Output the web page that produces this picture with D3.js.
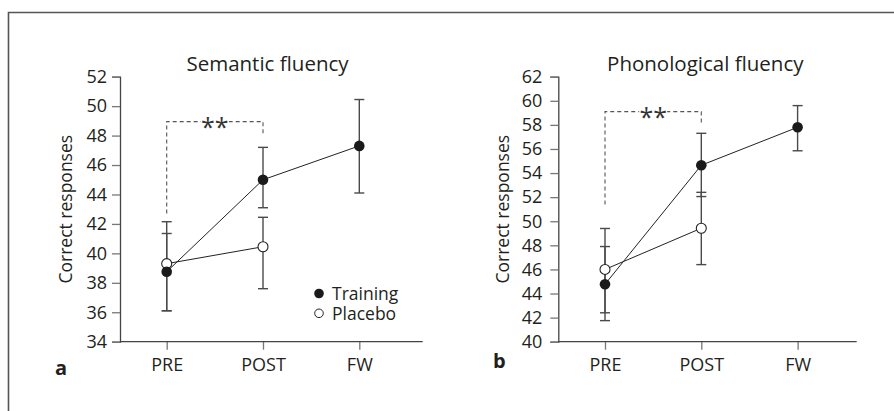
<!DOCTYPE html>
<html><head><meta charset="utf-8">
<script src="https://cdn.jsdelivr.net/npm/d3@7"></script>
<style>
html,body{margin:0;padding:0;background:#fff;}
svg{display:block;font-family:"Open Sans",sans-serif;}
</style></head>
<body><svg id="chart" width="894" height="411"></svg>
<script>
// ---- data ----
const categories = ["PRE", "POST", "FW"];
const seriesNames = ["Training", "Placebo"];

const semTicks = [34, 36, 38, 40, 42, 44, 46, 48, 50, 52];
const semTrainingMean = [38.75, 45.0, 47.3];
const semTrainingLow  = [36.1, 43.1, 44.1];
const semTrainingHigh = [41.35, 47.2, 50.45];
const semPlaceboMean  = [39.3, 40.45];
const semPlaceboLow   = [36.1, 37.6];
const semPlaceboHigh  = [42.15, 42.45];
const semBracket = [42.7, 48.95, 48.05]; // left end, top, right end

const phonTicks = [40, 42, 44, 46, 48, 50, 52, 54, 56, 58, 60, 62];
const phonTrainingMean = [44.77, 54.65, 57.8];
const phonTrainingLow  = [41.75, 52.05, 55.85];
const phonTrainingHigh = [47.9, 57.3, 59.6];
const phonPlaceboMean  = [46.0, 49.42];
const phonPlaceboLow   = [42.4, 46.4];
const phonPlaceboHigh  = [49.4, 52.4];
const phonBracket = [51.4, 59.1, 58.0];

const svg = d3.select("#chart");
const TXT = "#231f20";

// frame
svg.append("path").attr("d", "M8.5,411 L8.5,12.5 L894,12.5")
  .attr("fill", "none").attr("stroke", "#555").attr("stroke-width", 1.6);

function panel(o) {
  const g = svg.append("g");
  const y = d3.scaleLinear().domain([o.ticks[0], o.ticks[o.ticks.length - 1]]).range([341.7, 76.7]);
  const x = d3.scalePoint().domain(categories).range([o.x0 + o.padL, o.x0 + o.padL + 192.6]);
  const ax = o.x0;

  // y axis
  const ya = g.append("g").attr("transform", `translate(${ax},0)`)
    .call(d3.axisLeft(y).tickValues(o.ticks).tickSize(8).tickPadding(o.tickPad).tickFormat(d3.format("d")));
  ya.select(".domain").attr("stroke", "#444").attr("stroke-width", 1.3);
  ya.selectAll(".tick line").attr("stroke", "#777").attr("stroke-width", 1.3);
  ya.selectAll(".tick text").attr("font-size", 18).attr("fill", TXT).attr("font-family", "Open Sans");

  // x axis
  const xa = g.append("g").attr("transform", `translate(0,${y.range()[0]})`)
    .call(d3.axisBottom(x).tickSize(8).tickPadding(9));
  xa.select(".domain").remove();
  xa.selectAll(".tick line").attr("stroke", "#777").attr("stroke-width", 1.3);
  xa.selectAll(".tick text").attr("font-size", 18).attr("fill", TXT).attr("font-family", "Open Sans");
  g.append("line").attr("x1", ax).attr("x2", ax + o.xLen)
    .attr("y1", y.range()[0]).attr("y2", y.range()[0]).attr("stroke", "#444").attr("stroke-width", 1.3);

  // title
  g.append("text").attr("x", o.titleX).attr("y", 71).attr("text-anchor", "middle")
    .attr("font-size", 20.5).attr("fill", TXT).text(o.title);
  // y label
  g.append("text").attr("transform", `translate(${o.ylabX},${(y.range()[0] + y.range()[1]) / 2}) rotate(-90)`)
    .attr("text-anchor", "middle").attr("font-size", 17.5).attr("fill", TXT).text("Correct responses");
  // panel letter
  g.append("text").attr("x", o.letterX).attr("y", o.letterY).attr("font-size", 20)
    .attr("font-weight", "bold").attr("fill", TXT).text(o.letter);

  // bracket
  const b = o.bracket;
  const bx1 = x("PRE"), bx2 = x("POST");
  g.append("path").attr("d", `M${bx1},${y(b[0])} L${bx1},${y(b[1])} L${bx2},${y(b[1])} L${bx2},${y(b[2])}`)
    .attr("fill", "none").attr("stroke", "#555").attr("stroke-width", 1.1).attr("stroke-dasharray", "4,3");
  const mid = (bx1 + bx2) / 2 + o.starDx;
  g.append("rect").attr("x", mid - 14).attr("y", y(b[1]) - 4).attr("width", 28).attr("height", 8).attr("fill", "#fff");
  g.append("text").attr("x", mid).attr("y", y(b[1]) + 14.5).attr("text-anchor", "middle")
    .attr("font-size", 25).attr("fill", "#333").text("**");

  // error bars
  function errs(mean, lo, hi, color) {
    const d = mean.map((m, i) => ({ c: categories[i], lo: lo[i], hi: hi[i] }));
    const eg = g.append("g").attr("stroke", color).attr("stroke-width", 1.4);
    eg.selectAll(".v").data(d).join("line")
      .attr("x1", e => x(e.c)).attr("x2", e => x(e.c)).attr("y1", e => y(e.lo)).attr("y2", e => y(e.hi));
    eg.selectAll(".cl").data(d).join("line")
      .attr("x1", e => x(e.c) - 5).attr("x2", e => x(e.c) + 5).attr("y1", e => y(e.lo)).attr("y2", e => y(e.lo));
    eg.selectAll(".ch").data(d).join("line")
      .attr("x1", e => x(e.c) - 5).attr("x2", e => x(e.c) + 5).attr("y1", e => y(e.hi)).attr("y2", e => y(e.hi));
  }
  errs(o.pMean, o.pLow, o.pHigh, "#4a4a4a");
  errs(o.tMean, o.tLow, o.tHigh, "#4a4a4a");

  const line = d3.line().x((m, i) => x(categories[i])).y(m => y(m));
  g.append("path").attr("d", line(o.pMean)).attr("fill", "none").attr("stroke", "#222").attr("stroke-width", 1);
  g.append("path").attr("d", line(o.tMean)).attr("fill", "none").attr("stroke", "#222").attr("stroke-width", 1);

  g.selectAll(".pm").data(o.pMean).join("circle")
    .attr("cx", (m, i) => x(categories[i])).attr("cy", m => y(m)).attr("r", 5)
    .attr("fill", "#fff").attr("stroke", "#222").attr("stroke-width", 1.1);
  g.selectAll(".tm").data(o.tMean).join("circle")
    .attr("cx", (m, i) => x(categories[i])).attr("cy", m => y(m)).attr("r", 5.3)
    .attr("fill", "#1a1a1a");

  return { g, x, y };
}

const A = panel({
  x0: 120, padL: 46.7, xLen: 302.7, tickPad: 5, ticks: semTicks,
  title: "Semantic fluency", titleX: 267.5, ylabX: 71.5, letter: "a", letterX: 55, letterY: 375,
  bracket: semBracket, starDx: 0,
  tMean: semTrainingMean, tLow: semTrainingLow, tHigh: semTrainingHigh,
  pMean: semPlaceboMean, pLow: semPlaceboLow, pHigh: semPlaceboHigh
});
const B = panel({
  x0: 558.3, padL: 46.7, xLen: 298.4, tickPad: 8, ticks: phonTicks,
  title: "Phonological fluency", titleX: 705.3, ylabX: 509.3, letter: "b", letterX: 493, letterY: 368,
  bracket: phonBracket, starDx: 0,
  tMean: phonTrainingMean, tLow: phonTrainingLow, tHigh: phonTrainingHigh,
  pMean: phonPlaceboMean, pLow: phonPlaceboLow, pHigh: phonPlaceboHigh
});

// legend (panel a)
const lg = svg.append("g");
const legendY = [293.5, 313.3];
lg.selectAll("circle").data(seriesNames).join("circle")
  .attr("cx", 319).attr("cy", (d, i) => legendY[i]).attr("r", (d, i) => i === 0 ? 4.8 : 4.3)
  .attr("fill", (d, i) => i === 0 ? "#1a1a1a" : "#fff")
  .attr("stroke", "#222").attr("stroke-width", (d, i) => i === 0 ? 0 : 1);
lg.selectAll("text").data(seriesNames).join("text")
  .attr("x", 332).attr("y", (d, i) => legendY[i] + 6.5)
  .attr("font-size", 17.5).attr("fill", TXT).text(d => d);
</script></body></html>
